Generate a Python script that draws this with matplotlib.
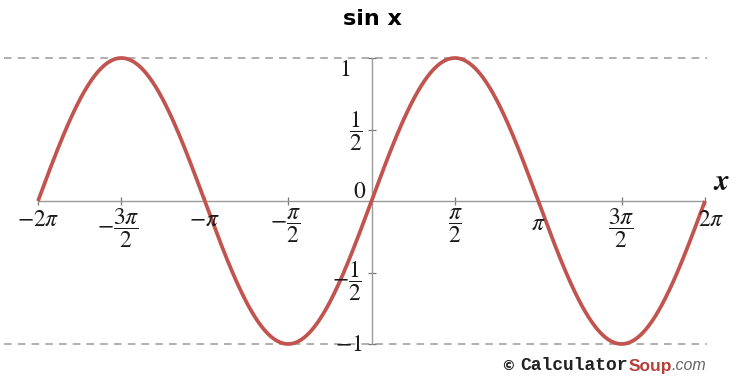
import numpy as np
import matplotlib
matplotlib.use("Agg")
import matplotlib.pyplot as plt

plt.rcParams['mathtext.fontset'] = 'stix'

# Tick positions (multiples of pi/2) and their labels
x_ticks = [-2*np.pi, -1.5*np.pi, -np.pi, -0.5*np.pi, 0.5*np.pi, np.pi, 1.5*np.pi, 2*np.pi]
x_labels = [r'$-2\pi$', r'$-\dfrac{3\pi}{2}$', r'$-\pi$', r'$-\dfrac{\pi}{2}$',
            r'$\dfrac{\pi}{2}$', r'$\pi$', r'$\dfrac{3\pi}{2}$', r'$2\pi$']
y_ticks = [-1, -0.5, 0.5, 1]
y_labels = [r'$-1$', r'$-\dfrac{1}{2}$', r'$\dfrac{1}{2}$', r'$1$']

x_min, x_max = -2*np.pi, 2*np.pi
x = np.linspace(x_min, x_max, 800)
y = np.sin(x)

W, H = 753, 376
fig = plt.figure(figsize=(W/100, H/100), dpi=100)
left, right = 38/W, 705/W
bottom, top = (H-344)/H, (H-58)/H
ax = fig.add_axes([left, bottom, right-left, top-bottom])
ax.set_xlim(x_min, x_max)
ax.set_ylim(-1, 1)

axis_col = '#9a9a9a'
for s in ['top', 'right']:
    ax.spines[s].set_visible(False)
ax.spines['left'].set_position('zero')
ax.spines['bottom'].set_position('zero')
for s in ['left', 'bottom']:
    ax.spines[s].set_color(axis_col)
    ax.spines[s].set_linewidth(1.0)

ax.set_xticks(x_ticks)
ax.set_yticks(y_ticks)
ax.tick_params(direction='inout', length=6, width=0.9, color='#777777',
               labelbottom=False, labelleft=False)

# Dashed guide lines at the extrema
for yv in (1, -1):
    ax.plot([-6.92, 6.33], [yv, yv], ls=(0, (5, 4)), color='#9a9a9a',
            lw=1.1, clip_on=False, zorder=1)

ax.plot(x, y, color='#c25450', lw=2.7, clip_on=False, zorder=3, solid_capstyle='butt')

# Tick labels placed beneath / beside the axes
fs = 17
for xv, lab in zip(x_ticks, x_labels):
    dx = 0.0
    if lab == r'$2\pi$':
        dx = 0.12
    elif lab.startswith(r'$-\dfrac'):
        dx = -0.05
    yoff = -0.04
    if lab == r'$\pi$':
        yoff = -0.07
    ax.text(xv + dx, yoff, lab, ha='center', va='top', fontsize=fs, color='#1a1a1a')

y_pos = {-1: -1.0, -0.5: -0.56, 0.5: 0.49, 1: 0.92}
y_dx = {-1: -0.17, -0.5: -0.17, 0.5: -0.17, 1: -0.4}
for yv, lab in zip(y_ticks, y_labels):
    ax.text(y_dx[yv], y_pos[yv], lab, ha='right', va='center', fontsize=fs, color='#1a1a1a')
ax.text(-0.1, 0.07, r'$0$', ha='right', va='center', fontsize=fs, color='#1a1a1a')

# Axis label and title
ax.text(6.6, 0.13, r'$\boldsymbol{x}$', ha='center', va='center', fontsize=21, color='#111111')
fig.text(372/W, 1 - 19/H, 'sin x', ha='center', va='center', fontsize=16,
         fontweight='bold', family='DejaVu Sans')

# Credit line, pieces laid out one after another
renderer = fig.canvas.get_renderer()
yc = 1 - 366/H
pieces = [('© ', dict(fontsize=10, color='#222222', family='DejaVu Sans', fontweight='bold')),
          ('Calculator', dict(fontsize=13, family='Liberation Mono', fontweight='bold', color='#222222')),
          ('Soup', dict(fontsize=12.5, family='Liberation Sans', fontweight='bold', color='#b5403a')),
          ('.com', dict(fontsize=11.5, family='Liberation Sans', style='italic', color='#666666'))]
xpos = 502
for txt, kw in pieces:
    t = fig.text(xpos/W, yc, txt, ha='left', va='center', **kw)
    bb = t.get_window_extent(renderer)
    xpos += bb.width

fig.savefig('out.png', dpi=100)
